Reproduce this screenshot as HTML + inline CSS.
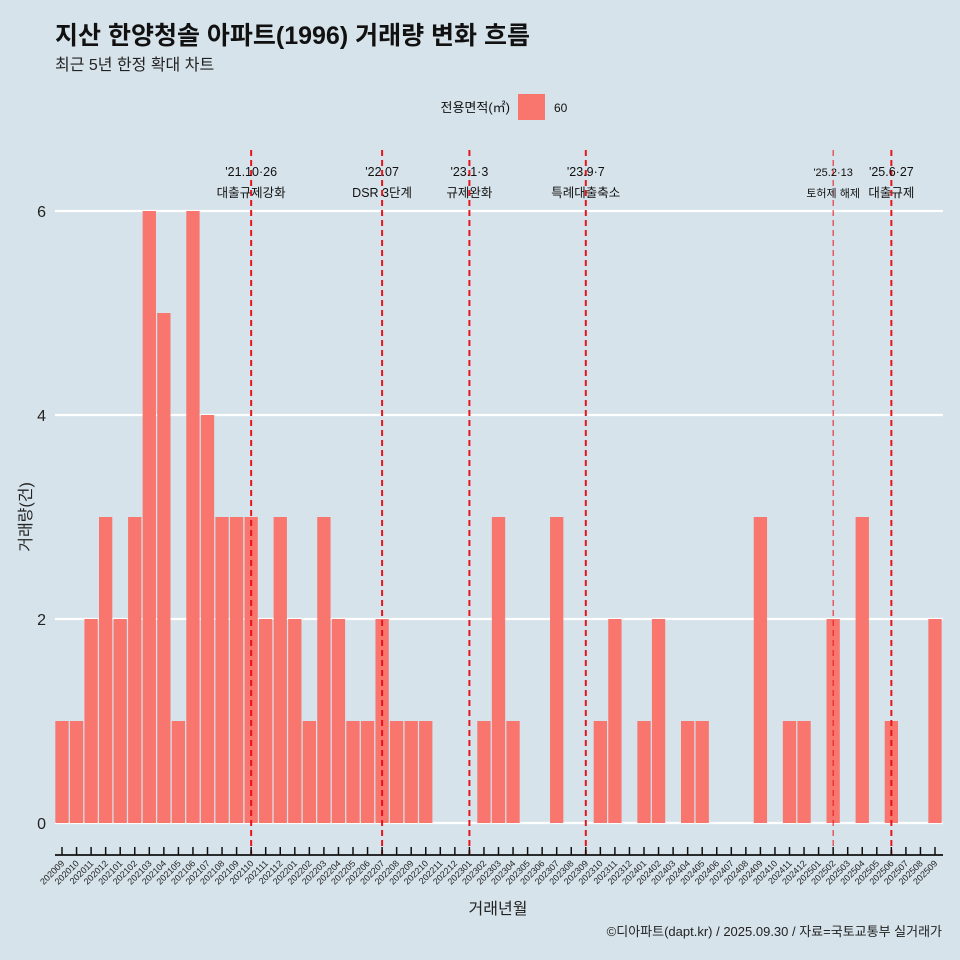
<!DOCTYPE html>
<html><head><meta charset="utf-8"><style>
body{margin:0;background:#d6e3ea;}
svg{display:block;font-family:"Liberation Sans","Noto Sans CJK KR",sans-serif;}
</style></head><body>
<svg id="c" width="960" height="960" viewBox="0 0 960 960">
<rect width="960" height="960" fill="#d6e3ea"/>
<text x="55" y="44" font-size="25" font-weight="bold" fill="#111">지산 한양청솔 아파트(1996) 거래량 변화 흐름</text>
<text x="55" y="70" font-size="16" fill="#222">최근 5년 한정 확대 차트</text>
<g>
<text x="510" y="112" font-size="13" text-anchor="end" fill="#111">전용면적(㎡)</text>
<rect x="518" y="94" width="27" height="26" fill="#f8766d"/>
<text x="554" y="112" font-size="12" fill="#111">60</text>
</g>
<g id="grid"></g><g id="bars"></g><g id="vlines"></g><g id="xaxis"></g>
<text x="31" y="517" font-size="16" fill="#222" text-anchor="middle" transform="rotate(-90 31 517)">거래량(건)</text>
<text x="498" y="914" font-size="16" fill="#222" text-anchor="middle">거래년월</text>
<text x="942" y="936" font-size="13" fill="#222" text-anchor="end">©디아파트(dapt.kr) / 2025.09.30 / 자료=국토교통부 실거래가</text>
</svg>
<script>
const months=["202009","202010","202011","202012","202101","202102","202103","202104","202105","202106","202107","202108","202109","202110","202111","202112","202201","202202","202203","202204","202205","202206","202207","202208","202209","202210","202211","202212","202301","202302","202303","202304","202305","202306","202307","202308","202309","202310","202311","202312","202401","202402","202403","202404","202405","202406","202407","202408","202409","202410","202411","202412","202501","202502","202503","202504","202505","202506","202507","202508","202509"];
const counts=[1,1,2,3,2,3,6,5,1,6,4,3,3,3,2,3,2,1,3,2,1,1,2,1,1,1,0,0,0,1,3,1,0,0,3,0,0,1,2,0,1,2,0,1,1,0,0,0,3,0,1,1,0,2,0,3,0,1,0,0,2];
const yTicks=[0,2,4,6];
const eventMonths=["202110","202207","202301","202309","202502","202506"];
const eventDates=["'21.10·26","'22.07","'23.1·3","'23.9·7","'25.2·13","'25.6·27"];
const eventLabels=["대출규제강화","DSR 3단계","규제완화","특례대출축소","토허제 해제","대출규제"];
const NS="http://www.w3.org/2000/svg";
const x0=62,step=(935-62)/60,bw=13.3;
const xs=i=>x0+i*step;
const ys=v=>823-v*102;
function mk(t,a,p){const e=document.createElementNS(NS,t);for(const k in a)e.setAttribute(k,a[k]);p.appendChild(e);return e;}
const g=document.getElementById('grid');
yTicks.forEach(v=>{
 const l=mk('line',{x1:55,x2:943,y1:ys(v),y2:ys(v),stroke:'#fff','stroke-width':2.2},g);
 
 
 const t=mk('text',{x:46,y:ys(v)+6,'font-size':16,'text-anchor':'end',fill:'#222'},g);
 t.textContent=v;
 
 
});
const b=document.getElementById('bars');
counts.forEach((v,i)=>{
 if(v<=0)return;
 const r=mk('rect',{x:xs(i)-bw/2,y:ys(v),width:bw,height:ys(0)-ys(v),fill:'#f8766d'},b);
 
 
});
const vl=document.getElementById('vlines');
eventMonths.forEach((m,k)=>{
 const i=months.indexOf(m);const x=xs(i);
 const thin=k==4;
 const l=mk('line',{x1:x,x2:x,y1:150,y2:855,stroke:'#e8141c','stroke-width':thin?1:2,'stroke-dasharray':'6 4'},vl);
 
 
 const fs=thin?11:12.5;
 const t1=mk('text',{x:x,y:176,'font-size':fs,'text-anchor':'middle',fill:'#111'},vl);
 t1.textContent=eventDates[k];
 
 
 const t2=mk('text',{x:x,y:197,'font-size':fs,'text-anchor':'middle',fill:'#111'},vl);
 t2.textContent=eventLabels[k];
 
 
});
const xa=document.getElementById('xaxis');
const al=mk('line',{x1:55,x2:943,y1:855,y2:855,stroke:'#111','stroke-width':1.8},xa);


months.forEach((m,i)=>{
 const x=xs(i);
 const tk=mk('line',{x1:x,x2:x,y1:847,y2:855,stroke:'#111','stroke-width':1.5},xa);
 
 
 const t=mk('text',{x:x+3,y:864,'font-size':9,'text-anchor':'end',fill:'#222',transform:`rotate(-45 ${x+3} 864)`},xa);
 t.textContent=m;
 
 
});
</script>
</body></html>
